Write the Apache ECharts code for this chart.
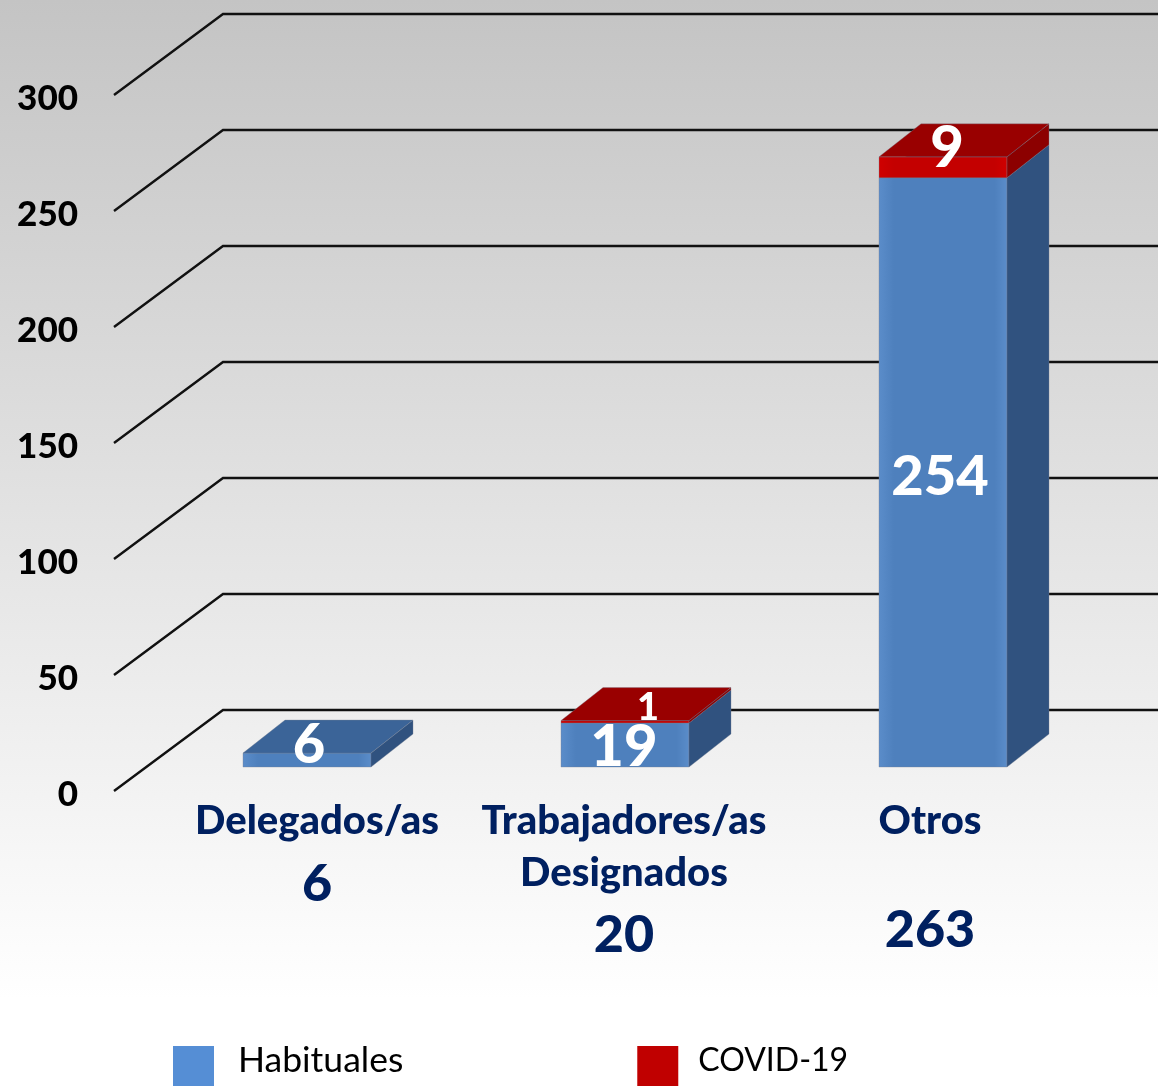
<!DOCTYPE html>
<html>
<head>
<meta charset="utf-8">
<title>Delegados/as</title>
<style>
  html, body { margin: 0; padding: 0; background: #fff; }
  #chart { width: 1158px; height: 1086px; }
</style>
<script src="https://cdn.jsdelivr.net/npm/echarts@6/dist/echarts.min.js"></script>
</head>
<body>
<div id="chart"></div>
<script>
const categories = ['Delegados/as', 'Trabajadores/as\nDesignados', 'Otros'];
const habituales = [6, 19, 254];
const covid = [0, 1, 9];
const totals = [6, 20, 263];
const yTicks = [0, 50, 100, 150, 200, 250, 300];

// fake 3d: how far the back of a bar / of the wall sits from its front edge
const DEPTH_X = 42;
const DEPTH_Y = 33;
const FLOOR_UP = 24;
const BAR_W = 128;
const WALL_X = 109;
const WALL_Y = 81;
const FONT = 'Lato, Carlito, sans-serif';

const BLUE = { front: '#4e80bd', edge: '#5b8dca', side: '#30527f', top: '#3b6498' };
const RED = { front: '#c40000', edge: '#d00000', side: '#8c0000', top: '#990000' };

// nudges of the printed numbers, per category
const habitualShift = [[2, -15, 56], [-1, 2, 58], [-3, 5, 56]];
const covidShift = [[0, 0, 0], [23, -14, 38], [4, -19, 58]];
const labelX = [10, -1, -13];
const totalY = [884, 935, 930];

function poly(points, fill) {
  return {
    type: 'polygon',
    shape: { points: points },
    style: { fill: fill, stroke: 'rgba(120,130,145,0.35)', lineWidth: 1 }
  };
}

function renderBlock(colors, shift) {
  return function (params, api) {
    const idx = api.value(0);
    const from = api.value(1);
    const to = api.value(2);
    if (to <= from) return { type: 'group', children: [] };
    const cx = api.coord([idx, 0])[0];
    const y0 = api.coord([idx, from])[1] - FLOOR_UP;
    const y1 = api.coord([idx, to])[1] - FLOOR_UP;
    const l = cx - BAR_W / 2;
    const r = cx + BAR_W / 2;
    const [dx, dy, size] = shift[idx];
    return {
      type: 'group',
      children: [
        poly([[l, y0], [r, y0], [r, y1], [l, y1]], {
          type: 'linear', x: 0, y: 0, x2: 1, y2: 0,
          colorStops: [
            { offset: 0, color: colors.edge },
            { offset: 0.12, color: colors.front },
            { offset: 0.9, color: colors.front },
            { offset: 1, color: colors.edge }
          ]
        }),
        poly([[r, y0], [r + DEPTH_X, y0 - DEPTH_Y], [r + DEPTH_X, y1 - DEPTH_Y], [r, y1]], colors.side),
        poly([[l, y1], [r, y1], [r + DEPTH_X, y1 - DEPTH_Y], [l + DEPTH_X, y1 - DEPTH_Y]], colors.top),
        {
          type: 'text',
          z2: 10,
          style: {
            text: String(to - from),
            x: cx + dx,
            y: (y0 + y1) / 2 + dy,
            fill: '#fff',
            font: '900 ' + size + 'px ' + FONT,
            align: 'center',
            verticalAlign: 'middle'
          }
        }
      ]
    };
  };
}

function renderWall(params, api) {
  const cs = params.coordSys;
  const y = api.coord([0, api.value(0)])[1];
  const x0 = cs.x - 34;
  return {
    type: 'polyline',
    shape: { points: [[x0, y], [x0 + WALL_X, y - WALL_Y], [1158, y - WALL_Y]] },
    style: { stroke: '#111', lineWidth: 2.4, fill: null }
  };
}

function renderLabel(params, api) {
  const idx = api.value(0);
  const cx = api.coord([idx, 0])[0] + labelX[idx];
  const text = (str, y, size) => ({
    type: 'text',
    style: {
      text: str, x: cx, y: y, fill: '#002060',
      font: '900 ' + size + 'px ' + FONT,
      align: 'center', verticalAlign: 'middle', lineHeight: 52
    }
  });
  const lines = categories[idx].split('\n');
  return {
    type: 'group',
    children: lines.map((s, i) => text(s, 821 + i * 52, 40)).concat(text(String(totals[idx]), totalY[idx], 52))
  };
}

const chart = echarts.init(document.getElementById('chart'));
chart.setOption({
  animation: false,
  backgroundColor: {
    type: 'linear', x: 0, y: 0, x2: 0, y2: 1,
    colorStops: [
      { offset: 0, color: '#c4c4c4' },
      { offset: 0.92, color: '#ffffff' },
      { offset: 1, color: '#ffffff' }
    ]
  },
  grid: { left: 148, top: 95, width: 954, height: 696 },
  legend: {
    left: 173,
    top: 1043,
    padding: 0,
    itemWidth: 41,
    itemHeight: 40,
    itemGap: 234,
    icon: 'rect',
    data: ['Habituales', 'COVID-19'],
    formatter: name => (name === 'Habituales' ? '{h|' : '{c|') + name + '}',
    textStyle: {
      color: '#000',
      fontFamily: FONT,
      rich: {
        h: { fontSize: 35.5, fontFamily: FONT, color: '#000', padding: [0, 0, 10, 19] },
        c: { fontSize: 32, fontFamily: FONT, color: '#000', padding: [0, 0, 10, 15] }
      }
    }
  },
  xAxis: {
    type: 'category',
    data: categories,
    axisLine: { show: false },
    axisTick: { show: false },
    axisLabel: { show: false }
  },
  yAxis: {
    type: 'value',
    min: 0,
    max: 300,
    interval: 50,
    axisLine: { show: false },
    axisTick: { show: false },
    splitLine: { show: false },
    axisLabel: {
      margin: 70,
      formatter: '{t|{value}}',
      rich: {
        t: { color: '#000', fontFamily: FONT, fontWeight: 900, fontSize: 35, padding: [8, 0, 0, 0] }
      }
    }
  },
  series: [
    { type: 'custom', name: 'wall', silent: true, z: 1, renderItem: renderWall, data: yTicks.map(v => [v]), encode: { y: 0 } },
    {
      type: 'custom', name: 'Habituales', z: 2,
      itemStyle: { color: '#558ed5' },
      renderItem: renderBlock(BLUE, habitualShift),
      data: habituales.map((v, i) => [i, 0, v]),
      encode: { x: 0, y: [1, 2] }
    },
    {
      type: 'custom', name: 'COVID-19', z: 3,
      itemStyle: { color: '#c00000' },
      renderItem: renderBlock(RED, covidShift),
      data: covid.map((v, i) => [i, habituales[i], habituales[i] + v]),
      encode: { x: 0, y: [1, 2] }
    },
    { type: 'custom', name: 'labels', silent: true, z: 4, renderItem: renderLabel, data: categories.map((c, i) => [i]), encode: { x: 0 } }
  ]
});
window.addEventListener('resize', () => chart.resize());
</script>
</body>
</html>
